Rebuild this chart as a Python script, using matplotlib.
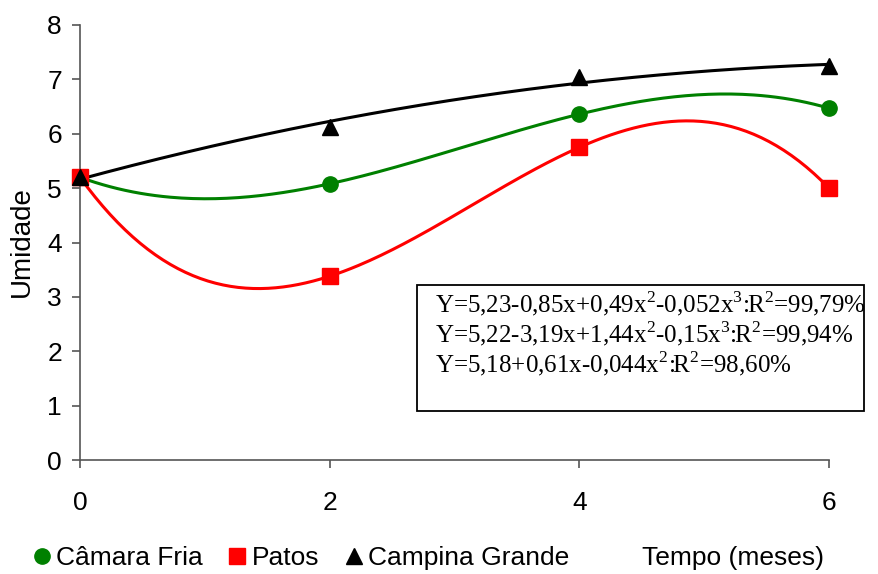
import numpy as np
import matplotlib
matplotlib.use("Agg")
import matplotlib.pyplot as plt
from matplotlib.patches import Rectangle

# months of storage
tempo = [0, 2, 4, 6]

# moisture (Umidade)
camara_fria = [5.20, 5.08, 6.36, 6.47]
patos = [5.20, 3.38, 5.75, 5.00]
campina_grande = [5.20, 6.12, 7.04, 7.24]

equacoes = [
    r"Y=5,23-0,85x+0,49x$^{2}$-0,052x$^{3}$:R$^{2}$=99,79%",
    r"Y=5,22-3,19x+1,44x$^{2}$-0,15x$^{3}$:R$^{2}$=99,94%",
    r"Y=5,18+0,61x-0,044x$^{2}$:R$^{2}$=98,60%",
]

plt.rcParams["font.family"] = ["Liberation Sans", "DejaVu Sans"]
plt.rcParams["mathtext.fontset"] = "custom"
plt.rcParams["mathtext.rm"] = "Liberation Serif"

W, H = 879, 574
fig = plt.figure(figsize=(W / 100, H / 100), dpi=100)
ax = fig.add_axes([80 / W, 1 - 460 / H, 749 / W, 435 / H])

xs = np.linspace(0, 6, 200)
series = [
    (camara_fria, 3, "green", "o", "Câmara Fria"),
    (patos, 3, "red", "s", "Patos"),
    (campina_grande, 2, "black", "^", "Campina Grande"),
]
handles = []
for vals, grau, cor, mk, nome in series:
    # trend lines as in the original (polynomial fits)
    coef = np.polyfit(tempo, vals, grau)
    ax.plot(xs, np.polyval(coef, xs), color=cor, lw=2.2)
    h, = ax.plot(tempo, vals, linestyle="none", marker=mk, color=cor,
                 markersize=11, label=nome, clip_on=False, zorder=3)
    handles.append(h)

ax.set_xlim(0, 6)
ax.set_ylim(0, 8)
ax.set_xticks([0, 2, 4, 6])
ax.set_yticks(range(0, 9))
ax.spines["top"].set_visible(False)
ax.spines["right"].set_visible(False)
for s in ("left", "bottom"):
    ax.spines[s].set_color("#555555")
    ax.spines[s].set_linewidth(1.2)
ax.tick_params(axis="both", colors="#555555", labelcolor="black",
               labelsize=19, length=6, width=1.2)
ax.tick_params(axis="x", pad=16.5)
ax.tick_params(axis="y", pad=7)

fig.text(22 / W, 1 - 242 / H, "Umidade", rotation=90, fontsize=20,
         ha="center", va="center")

# equation box
fig.add_artist(Rectangle((417 / W, 1 - 411 / H), 447 / W, 126 / H,
                         transform=fig.transFigure, fill=False,
                         ec="black", lw=1.3))
for i, eq in enumerate(equacoes):
    fig.text(435 / W, 1 - (312 + 30 * i) / H, eq, fontsize=18,
             family="Liberation Serif", va="baseline", ha="left")

fig.legend(handles=handles, loc="lower left",
           bbox_to_anchor=(34 / W, 4 / H), ncol=3, frameon=False,
           fontsize=19, handlelength=0.6, handletextpad=0.25,
           columnspacing=1.0, borderpad=0, borderaxespad=0)
fig.text(642 / W, 1 - 565 / H, "Tempo (meses)", fontsize=19, va="baseline")

fig.savefig("out.png", dpi=100)
